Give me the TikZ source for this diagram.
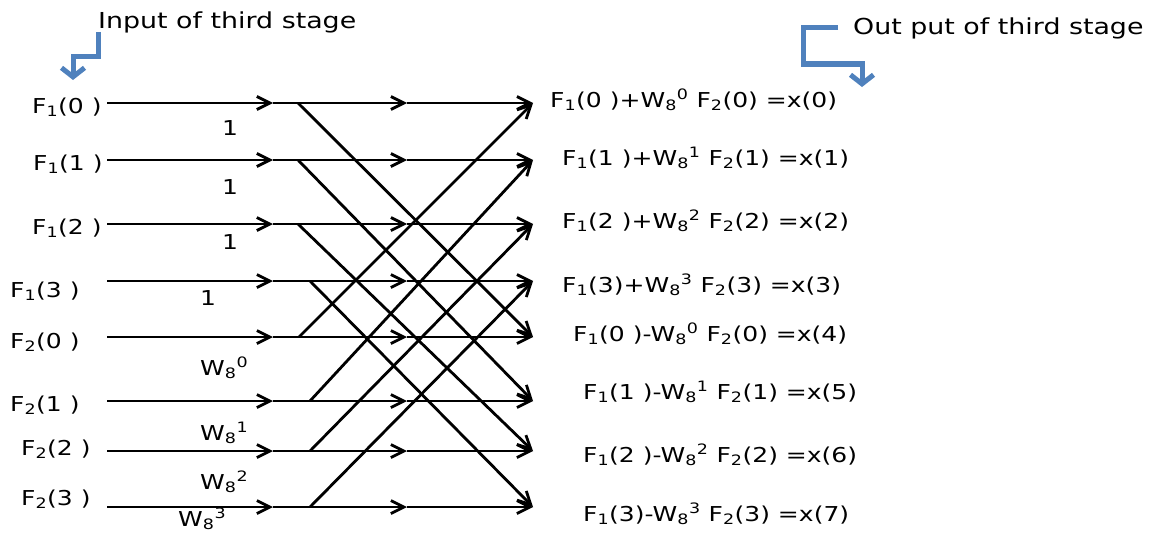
\documentclass[tikz,border=0pt]{standalone}
\usepackage{fontspec}
\setmainfont{DejaVu Sans}[FakeStretch=1.22]
\usetikzlibrary{arrows.meta}
\definecolor{slideblue}{HTML}{4F81BD}
\tikzset{
  flow/.style={line width=2.8pt,-{Straight Barb[length=13pt,width=13pt]}},
  lbl/.style={font=\fontsize{20.5}{24}\selectfont,inner sep=0pt},
  stagecap/.style={font=\fontsize{22}{26}\selectfont,inner sep=0pt,anchor=west},
  hint/.style={slideblue,line width=5pt,-{Straight Barb[length=9pt,width=23pt]}}
}
\begin{document}
\begin{tikzpicture}[x=1pt,y=-1pt]
  \useasboundingbox (0,0) rectangle (1150,535);
  % rows of the third stage
  \foreach \i/\y/\s in {0/103/298,1/160/298,2/224/298,3/281/310,4/337/299,5/401/310,6/451/310,7/507/310} {
    \coordinate (in\i) at (107,\y);
    \coordinate (m\i) at (273,\y);
    \coordinate (s\i) at (\s,\y);
    \coordinate (c\i) at (407,\y);
    \coordinate (o\i) at (533,\y);
  }
  \foreach \i in {0,...,7} {
    \draw[flow] (in\i) -- (m\i);
    \draw[flow] (m\i) -- (c\i);
    \draw[flow] (c\i) -- (o\i);
  }
  % butterflies
  \foreach \i/\j in {0/4,1/5,2/6,3/7} {
    \draw[flow] (s\i) -- (o\j);
    \draw[flow] (s\j) -- (o\i);
  }
  % inputs
  \node[lbl,anchor=west] (f10) at (32,107) {F\textsubscript{1}(0 )};
  \node[lbl,anchor=west] (f11) at (33,164) {F\textsubscript{1}(1 )};
  \node[lbl,anchor=west] (f12) at (32,228) {F\textsubscript{1}(2 )};
  \node[lbl,anchor=west] (f13) at (10,291) {F\textsubscript{1}(3 )};
  \node[lbl,anchor=west] (f20) at (10,342) {F\textsubscript{2}(0 )};
  \node[lbl,anchor=west] (f21) at (10,405) {F\textsubscript{2}(1 )};
  \node[lbl,anchor=west] (f22) at (21,449) {F\textsubscript{2}(2 )};
  \node[lbl,anchor=west] (f23) at (21,499) {F\textsubscript{2}(3 )};
  % twiddle factors
  \node[lbl] (w0) at (230,128) {1};
  \node[lbl] (w1) at (230,187) {1};
  \node[lbl] (w2) at (230,242) {1};
  \node[lbl] (w3) at (208,298) {1};
  \node[lbl,anchor=west] (w4) at (200,368) {W\textsubscript{8}\textsuperscript{0}};
  \node[lbl,anchor=west] (w5) at (200,433) {W\textsubscript{8}\textsuperscript{1}};
  \node[lbl,anchor=west] (w6) at (200,482) {W\textsubscript{8}\textsuperscript{2}};
  \node[lbl,anchor=west] (w7) at (178,519) {W\textsubscript{8}\textsuperscript{3}};
  % outputs
  \node[lbl,anchor=west] (x0) at (550,100) {F\textsubscript{1}(0 )+W\textsubscript{8}\textsuperscript{0} F\textsubscript{2}(0) =x(0)};
  \node[lbl,anchor=west] (x1) at (562,158) {F\textsubscript{1}(1 )+W\textsubscript{8}\textsuperscript{1} F\textsubscript{2}(1) =x(1)};
  \node[lbl,anchor=west] (x2) at (562,221) {F\textsubscript{1}(2 )+W\textsubscript{8}\textsuperscript{2} F\textsubscript{2}(2) =x(2)};
  \node[lbl,anchor=west] (x3) at (562,285) {F\textsubscript{1}(3)+W\textsubscript{8}\textsuperscript{3} F\textsubscript{2}(3) =x(3)};
  \node[lbl,anchor=west] (x4) at (573,334) {F\textsubscript{1}(0 )-W\textsubscript{8}\textsuperscript{0} F\textsubscript{2}(0) =x(4)};
  \node[lbl,anchor=west] (x5) at (583,392) {F\textsubscript{1}(1 )-W\textsubscript{8}\textsuperscript{1} F\textsubscript{2}(1) =x(5)};
  \node[lbl,anchor=west] (x6) at (583,455) {F\textsubscript{1}(2 )-W\textsubscript{8}\textsuperscript{2} F\textsubscript{2}(2) =x(6)};
  \node[lbl,anchor=west] (x7) at (583,514) {F\textsubscript{1}(3)-W\textsubscript{8}\textsuperscript{3} F\textsubscript{2}(3) =x(7)};
  % stage captions
  \node[stagecap] (tin) at (98,22) {Input of third stage};
  \node[stagecap] (tout) at (853,28) {Out put of third stage};
  \coordinate (ib) at (98,32);
  \coordinate (it) at (73,80);
  \draw[hint] (ib) -- ++(0,25) -- ++(-25,0) -- (it);
  \coordinate (ob) at (838,28);
  \coordinate (ot) at (862,87);
  \draw[hint] (ob) -- ++(-35,0) -- ++(0,36) -- ++(59,0) -- (ot);
\end{tikzpicture}
\end{document}
